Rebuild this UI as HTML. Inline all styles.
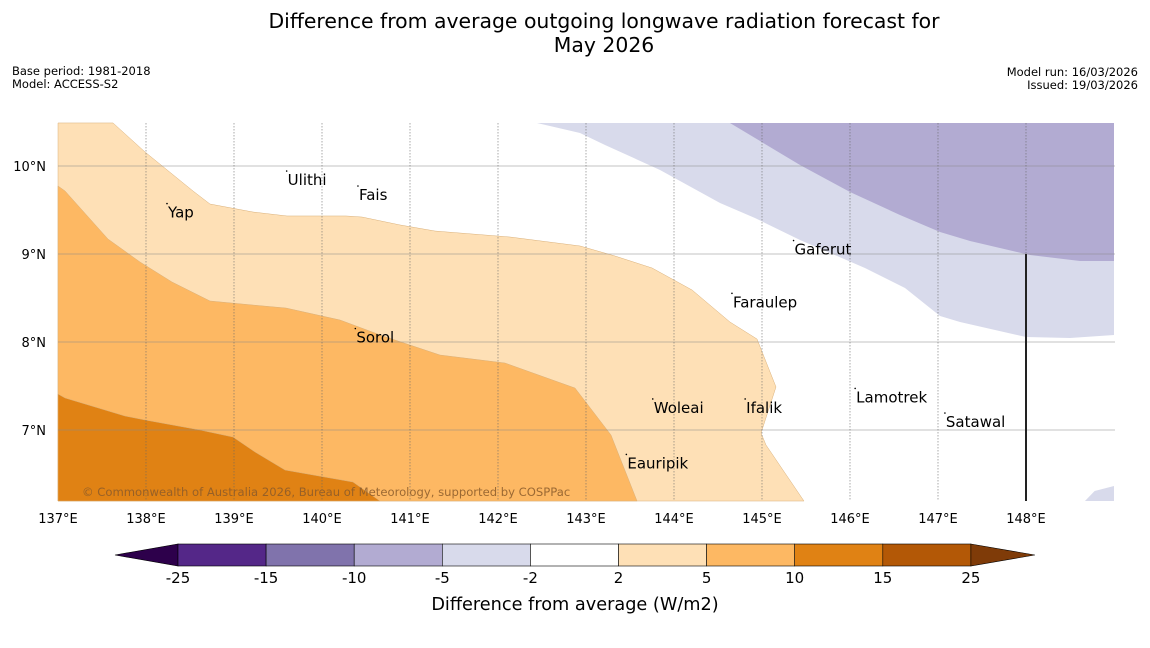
<!DOCTYPE html>
<html><head><meta charset="utf-8"><style>
body{margin:0;background:#fff;width:1150px;height:644px;overflow:hidden;font-family:"DejaVu Sans","Liberation Sans",sans-serif}
</style></head><body>
<svg id="chart" width="1150" height="644" xmlns="http://www.w3.org/2000/svg" font-family="DejaVu Sans, Liberation Sans, sans-serif">
<text x="604" y="28" font-size="20.4" text-anchor="middle">Difference from average outgoing longwave radiation forecast for</text>
<text x="604" y="52" font-size="20.4" text-anchor="middle">May 2026</text>
<text x="12" y="75" font-size="11.5">Base period: 1981-2018</text>
<text x="12" y="88" font-size="11.5">Model: ACCESS-S2</text>
<text x="1138" y="76" font-size="11.5" text-anchor="end">Model run: 16/03/2026</text>
<text x="1138" y="89" font-size="11.5" text-anchor="end">Issued: 19/03/2026</text>
<g id="map"></g>
<g id="cbar"></g>
<text x="575" y="610" font-size="17.7" text-anchor="middle">Difference from average (W/m2)</text>
</svg>
<script>
const lonTicks=[137,138,139,140,141,142,143,144,145,146,147,148];
const latTicks=[10,9,8,7];
const lev2=[[137.625,10.489],[137.989,10.159],[138.534,9.716],[138.727,9.568],[139.216,9.477],[139.602,9.432],[140.273,9.432],[140.455,9.42],[140.886,9.33],[141.284,9.261],[142.136,9.193],[142.932,9.091],[143.33,8.977],[143.75,8.841],[144.205,8.591],[144.636,8.227],[144.943,8.034],[145.159,7.489],[144.989,6.966],[145.045,6.83],[145.477,6.193],[137,6.193],[137,10.489]];
const lev5=[[137,9.773],[137.08,9.716],[137.568,9.17],[137.932,8.909],[138.295,8.682],[138.727,8.466],[139.216,8.42],[139.591,8.386],[140.205,8.25],[140.693,8.068],[141.341,7.852],[142.08,7.761],[142.875,7.477],[143.284,6.943],[143.58,6.193],[137,6.193]];
const lev10=[[137,7.409],[137.08,7.364],[137.761,7.159],[137.989,7.114],[138.614,7.0],[138.989,6.92],[139.239,6.75],[139.58,6.545],[140.352,6.409],[140.659,6.193],[137,6.193]];
const levm2=[[142.443,10.489],[142.932,10.375],[143.216,10.239],[143.841,9.955],[144.523,9.58],[144.92,9.409],[145.432,9.159],[146.17,8.841],[146.625,8.614],[147.023,8.295],[147.25,8.227],[148.0,8.057],[148.5,8.045],[149,8.08],[149,10.489]];
const levm5=[[144.636,10.489],[145.432,10.011],[146.0,9.705],[146.568,9.443],[147.023,9.25],[147.364,9.148],[148.045,8.989],[148.614,8.92],[149,8.92],[149,10.489]];
const levm2b=[[148.67,6.193],[148.78,6.307],[149,6.364],[149,6.193]];
const places=["Yap","Ulithi","Fais","Sorol","Gaferut","Faraulep","Woleai","Ifalik","Lamotrek","Satawal","Eauripik"];
const placeLon=[138.25,139.61,140.42,140.39,145.37,144.67,143.77,144.82,146.07,147.09,143.47];
const placeLat=[9.55,9.92,9.75,8.13,9.13,8.53,7.33,7.33,7.45,7.17,6.7];
const cbLabels=["-25","-15","-10","-5","-2","2","5","10","15","25"];
const cbColors=["#542788","#8073ac","#b2abd2","#d8daeb","#ffffff","#fee0b6","#fdb863","#e08214","#b35806"];
const NS="http://www.w3.org/2000/svg";
const X=lon=>58+(lon-137)*88, Y=lat=>166+(10-lat)*88;
function mk(t,a,p){const e=document.createElementNS(NS,t);for(const k in a)e.setAttribute(k,a[k]);p.appendChild(e);return e;}
const map=document.getElementById('map');
function poly(pts,fill,name){const p=mk('polygon',{points:pts.map(q=>X(q[0])+','+Y(q[1])).join(' '),fill:fill,stroke:fill==='#fee0b6'||fill==='#fdb863'||fill==='#e08214'?'#d9b07a':'none','stroke-width':0.5},map);

}
poly(lev2,'#fee0b6','contour-2-5');
poly(lev5,'#fdb863','contour-5-10');
poly(lev10,'#e08214','contour-10-15');
poly(levm2,'#d8daeb','contour-neg2-neg5');
poly(levm5,'#b2abd2','contour-neg5-neg10');
poly(levm2b,'#d8daeb','contour-neg2-corner');
latTicks.forEach(l=>{const g=mk('line',{x1:58,x2:1115,y1:Y(l),y2:Y(l),stroke:'#888','stroke-opacity':0.5,'stroke-width':1},map);


const t=mk('text',{x:46,y:Y(l)+5,'font-size':13,'text-anchor':'end'},map);t.textContent=l+'°N';

});
lonTicks.forEach(l=>{if(l>137){const g=mk('line',{x1:X(l),x2:X(l),y1:123,y2:501,stroke:'#666','stroke-width':0.8,'stroke-dasharray':'1.5,1.5','stroke-opacity':0.7},map);

}
const t=mk('text',{x:X(l),y:523,'font-size':13,'text-anchor':'middle'},map);t.textContent=l+'°E';

});
const bl=mk('line',{x1:X(148),x2:X(148),y1:Y(9),y2:501,stroke:'#222','stroke-width':2},map);


places.forEach((n,i)=>{const d=mk('circle',{cx:X(placeLon[i])-1,cy:Y(placeLat[i])-2,r:0.8,fill:'#000'},map);


const t=mk('text',{x:X(placeLon[i]),y:Y(placeLat[i])+12,'font-size':15},map);t.textContent=n;

});
const cp=mk('text',{x:82,y:496,'font-size':11.6,fill:'#8a5a2a','fill-opacity':0.85},map);cp.textContent='© Commonwealth of Australia 2026, Bureau of Meteorology, supported by COSPPac';


const cb=document.getElementById('cbar');
const cx0=178,cw=88.1,cy=544,ch=22;
const lt=mk('polygon',{points:`115,${cy+ch/2} ${cx0},${cy} ${cx0},${cy+ch}`,fill:'#2d004b',stroke:'#000','stroke-width':0.6},cb);


cbColors.forEach((c,i)=>{const r=mk('rect',{x:cx0+i*cw,y:cy,width:cw,height:ch,fill:c,stroke:'#000','stroke-width':0.6},cb);

});
const xe=cx0+cbColors.length*cw;
const rt=mk('polygon',{points:`${xe},${cy} ${xe+64},${cy+ch/2} ${xe},${cy+ch}`,fill:'#7f3b08',stroke:'#000','stroke-width':0.6},cb);


cbLabels.forEach((s,i)=>{const t=mk('text',{x:cx0+i*cw,y:583,'font-size':15,'text-anchor':'middle'},cb);t.textContent=s;

});
</script>
</body></html>
